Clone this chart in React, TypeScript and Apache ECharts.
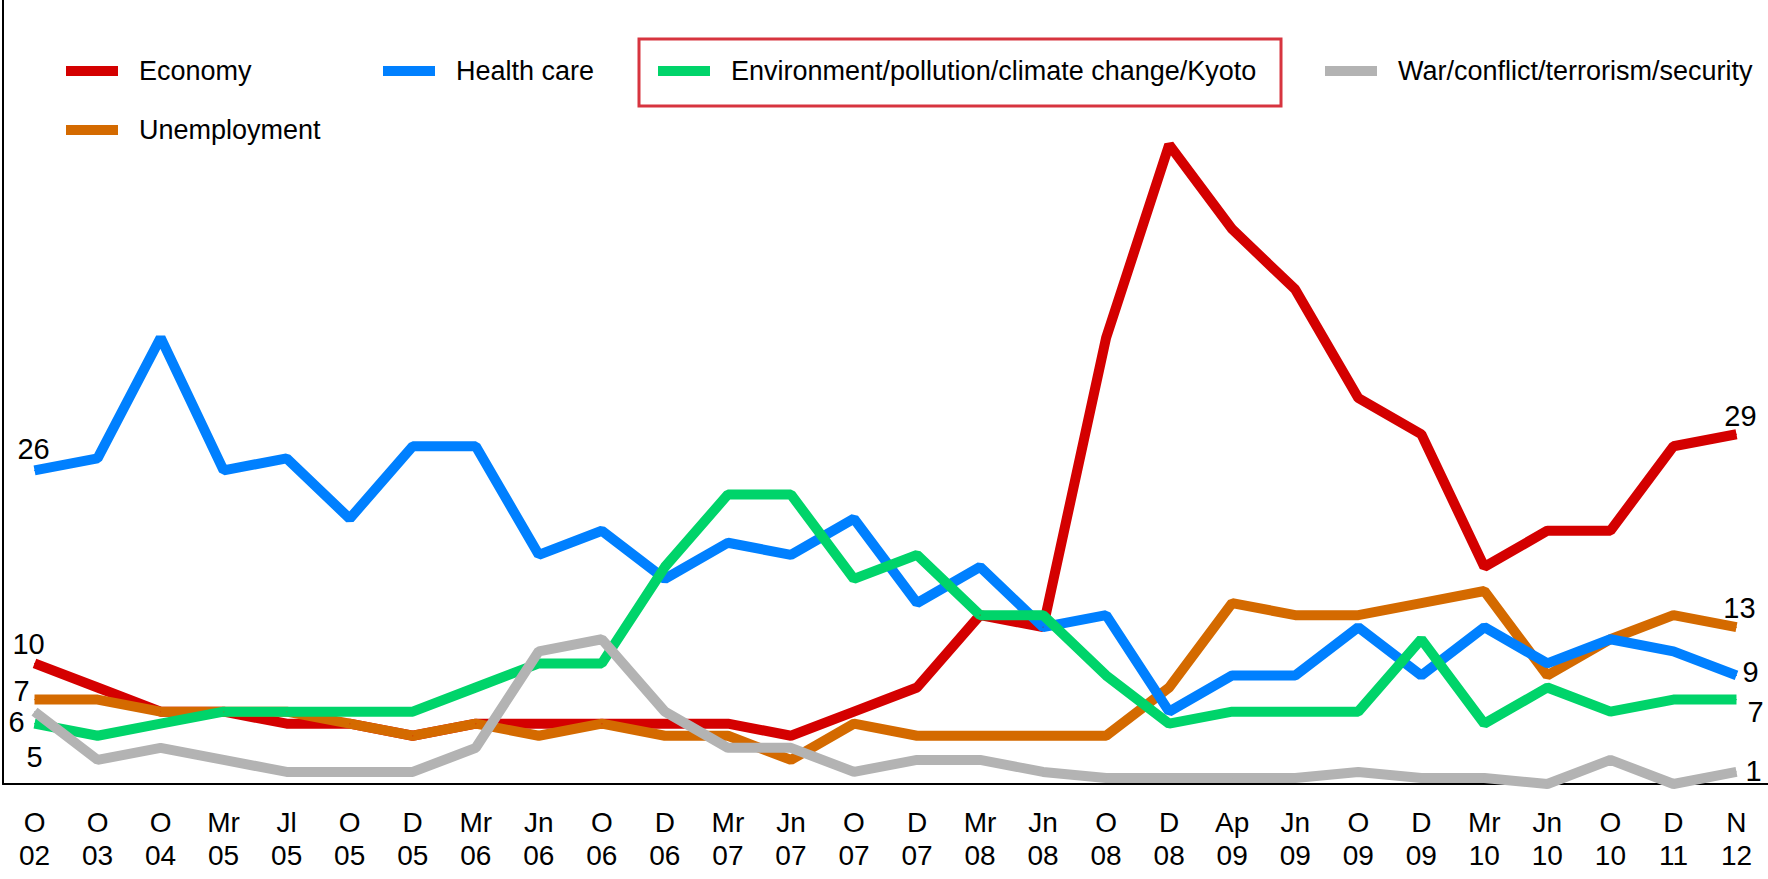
import React, { useEffect, useRef } from "react";
import * as echarts from "echarts";

const categories = [
  "O\n02", "O\n03", "O\n04", "Mr\n05", "Jl\n05", "O\n05", "D\n05", "Mr\n06", "Jn\n06", "O\n06",
  "D\n06", "Mr\n07", "Jn\n07", "O\n07", "D\n07", "Mr\n08", "Jn\n08", "O\n08", "D\n08", "Ap\n09",
  "Jn\n09", "O\n09", "D\n09", "Mr\n10", "Jn\n10", "O\n10", "D\n11", "N\n12",
];

const economy = [10, 8, 6, 6, 5, 5, 4, 5, 5, 5, 5, 5, 4, 6, 8, 14, 13, 37, 53, 46, 41, 32, 29, 18, 21, 21, 28, 29];
const healthCare = [26, 27, 37, 26, 27, 22, 28, 28, 19, 21, 17, 20, 19, 22, 15, 18, 13, 14, 6, 9, 9, 13, 9, 13, 10, 12, 11, 9];
const environment = [5, 4, 5, 6, 6, 6, 6, 8, 10, 10, 18, 24, 24, 17, 19, 14, 14, 9, 5, 6, 6, 6, 12, 5, 8, 6, 7, 7];
const war = [6, 2, 3, 2, 1, 1, 1, 3, 11, 12, 6, 3, 3, 1, 2, 2, 1, 0.5, 0.5, 0.5, 0.5, 1, 0.5, 0.5, 0, 2, 0, 1];
const unemployment = [7, 7, 6, 6, 6, 5, 4, 5, 4, 5, 4, 4, 2, 5, 4, 4, 4, 4, 8, 15, 14, 14, 15, 16, 9, 12, 14, 13];

const SANS = "'Liberation Sans', Arial, sans-serif";

const C_ECON = "#d40000";
const C_HEALTH = "#0080ff";
const C_ENV = "#00d46a";
const C_WAR = "#b3b3b3";
const C_UNEMP = "#d46a00";

type EndLabel = { index: number; offset: [number, number] };

function buildData(values: number[], ends: EndLabel[]) {
  return values.map((v, i) => {
    const e = ends.find((x) => x.index === i);
    if (!e) return v;
    return {
      value: v,
      label: {
        show: true,
        position: "inside",
        offset: e.offset,
        formatter: "{c}",
        color: "#000",
        fontSize: 29,
        fontFamily: SANS,
      },
    };
  });
}

function lineSeries(name: string, color: string, values: number[], ends: EndLabel[]) {
  return {
    name,
    type: "line",
    data: buildData(values, ends),
    symbol: "circle",
    symbolSize: 1,
    showSymbol: true,
    showAllSymbol: true,
    itemStyle: { color },
    lineStyle: { color, width: 10 },
    emphasis: { disabled: true },
  };
}

const last = categories.length - 1;

const legendLayout = [
  { name: "Economy", left: 66, top: 71 },
  { name: "Health care", left: 383, top: 71 },
  { name: "Environment/pollution/climate change/Kyoto", left: 658, top: 71 },
  { name: "War/conflict/terrorism/security", left: 1325, top: 71 },
  { name: "Unemployment", left: 66, top: 130 },
];

export default function App() {
  const ref = useRef<HTMLDivElement>(null);

  useEffect(() => {
    document.body.style.margin = "0";
    if (!ref.current) return;
    const chart = echarts.init(ref.current, null, { renderer: "svg" });

    const option = {
      animation: false,
      backgroundColor: "#fff",
      grid: { left: 3, right: 0, top: 0, bottom: 95, containLabel: false },
      legend: legendLayout.map((l) => ({
        data: [l.name],
        left: l.left,
        top: l.top - 15,
        orient: "horizontal",
        padding: 0,
        itemWidth: 52,
        itemHeight: 10,
        icon: "rect",
        selectedMode: false,
        textStyle: {
          fontSize: 27,
          fontFamily: SANS,
          color: "#000",
          lineHeight: 30,
          padding: [0, 0, 0, 16],
        },
      })),
      graphic: [
        {
          type: "rect",
          shape: { x: 639, y: 39, width: 642, height: 67 },
          style: { fill: "none", stroke: "#d7343f", lineWidth: 3 },
          z: 100,
        },
      ],
      xAxis: {
        type: "category",
        data: categories,
        boundaryGap: true,
        axisLine: { show: true, lineStyle: { color: "#000", width: 2 } },
        axisTick: { show: false },
        splitLine: { show: false },
        axisLabel: {
          interval: 0,
          fontSize: 28,
          lineHeight: 33,
          fontFamily: SANS,
          color: "#000",
          margin: 22,
        },
      },
      yAxis: {
        type: "value",
        min: 0,
        max: 65,
        axisLine: { show: true, lineStyle: { color: "#000", width: 2 } },
        axisTick: { show: false },
        axisLabel: { show: false },
        splitLine: { show: false },
      },
      series: [
        lineSeries("Economy", C_ECON, economy, [
          { index: 0, offset: [-6, -19] },
          { index: last, offset: [4, -18] },
        ]),
        lineSeries("Unemployment", C_UNEMP, unemployment, [
          { index: 0, offset: [-13, -9] },
          { index: last, offset: [3, -19] },
        ]),
        lineSeries("Health care", C_HEALTH, healthCare, [
          { index: 0, offset: [-1, -21] },
          { index: last, offset: [14, -3] },
        ]),
        lineSeries("Environment/pollution/climate change/Kyoto", C_ENV, environment, [
          { index: 0, offset: [0, 33] },
          { index: last, offset: [19, 12] },
        ]),
        lineSeries("War/conflict/terrorism/security", C_WAR, war, [
          { index: 0, offset: [-18, 10] },
          { index: last, offset: [17, -1] },
        ]),
      ],
    };

    chart.setOption(option as any);
    return () => chart.dispose();
  }, []);

  return <div ref={ref} style={{ width: 1768, height: 879 }} />;
}
